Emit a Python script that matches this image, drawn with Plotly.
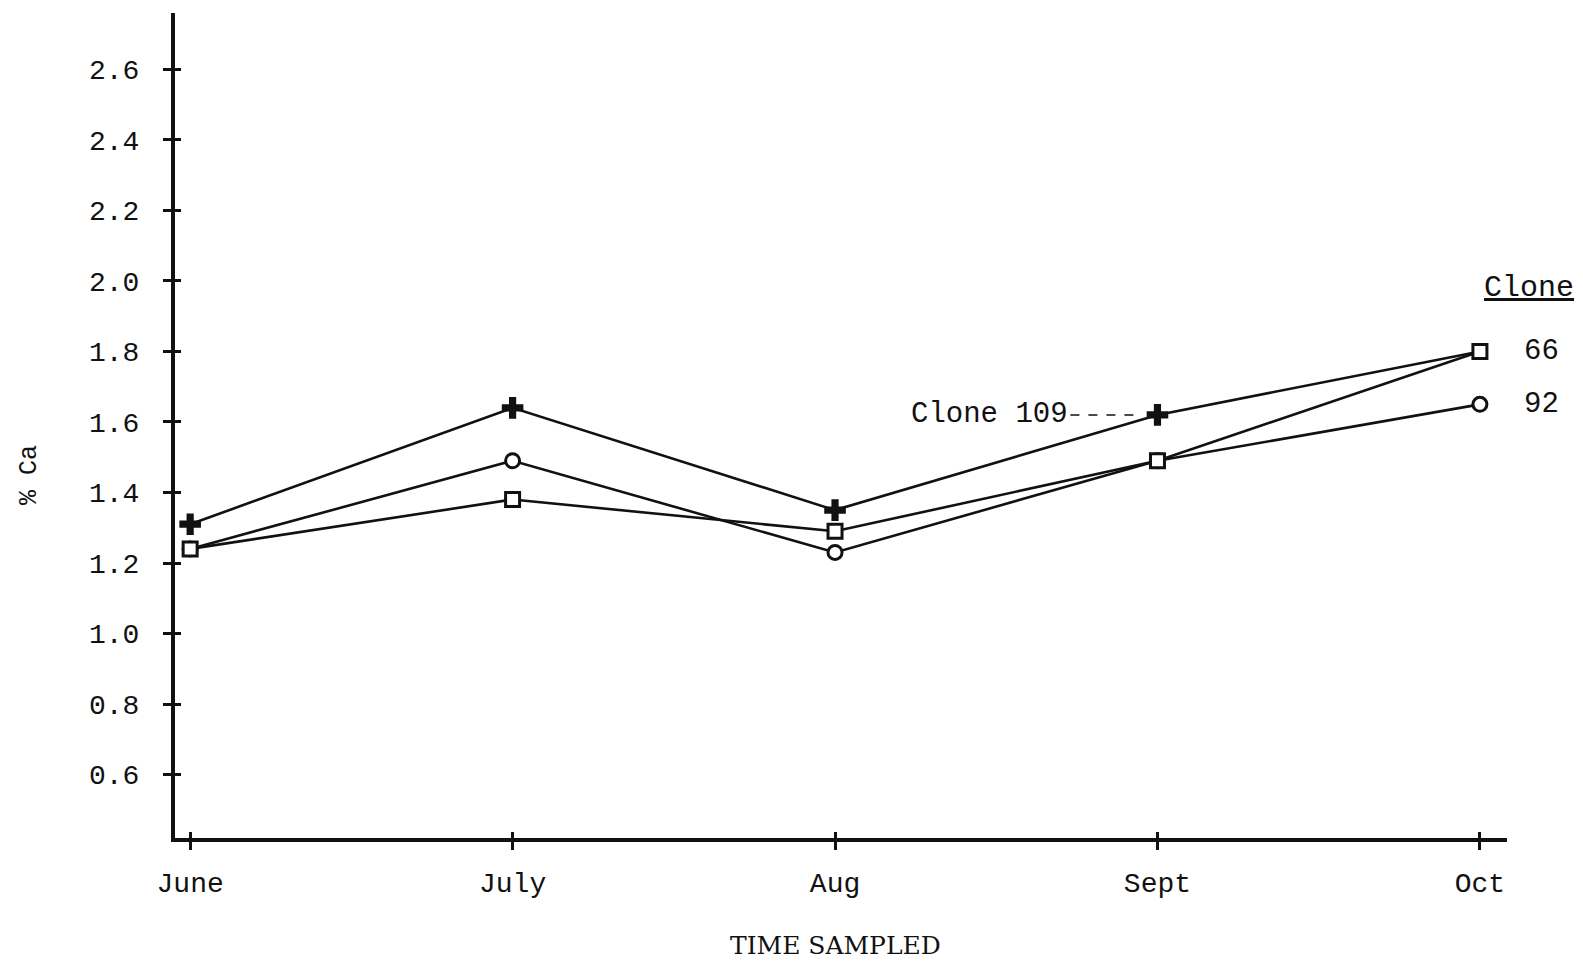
import plotly.graph_objects as go

months = ["June", "July", "Aug", "Sept", "Oct"]
clone_109 = [1.31, 1.64, 1.35, 1.62, 1.80]
clone_92 = [1.24, 1.49, 1.23, 1.49, 1.65]
clone_66 = [1.24, 1.38, 1.29, 1.49, 1.80]
y_ticks = [0.6, 0.8, 1.0, 1.2, 1.4, 1.6, 1.8, 2.0, 2.2, 2.4, 2.6]

INK = "#111111"
TYPE_FONT = "Liberation Mono"
X_RANGE = [-0.047, 4.084]
Y_RANGE = [0.42, 2.76]

fig = go.Figure()
# Oct marker of clone 109 sits under the clone 66 square in the original
series = [
    ("109", clone_109, "cross", [18, 18, 18, 18, 11], 0, INK),
    ("92", clone_92, "circle", 14, 3, "white"),
    ("66", clone_66, "square", 14, 3, "white"),
]
for name, vals, sym, size, lw, fill in series:
    fig.add_trace(go.Scatter(
        x=months, y=vals, mode="lines+markers", name=name,
        line=dict(color=INK, width=2.6),
        marker=dict(symbol=sym, size=size, color=fill, opacity=1,
                    line=dict(color=INK, width=lw)),
        showlegend=False,
    ))

# leader line for "Clone 109" label (dashed)
sept_idx = 3
fig.add_shape(type="line", xref="x", yref="y",
              x0=sept_idx - 0.27, x1=sept_idx - 0.05,
              y0=clone_109[sept_idx], y1=clone_109[sept_idx],
              line=dict(color=INK, width=1.5, dash="dash"))
fig.add_annotation(x=sept_idx - 0.27, y=clone_109[sept_idx], xref="x", yref="y",
                   text="Clone 109", showarrow=False, xanchor="right",
                   font=dict(family=TYPE_FONT, size=29, color=INK))

oct_idx = 4
fig.add_annotation(x=oct_idx, y=clone_66[oct_idx], xref="x", yref="y",
                   text="66", showarrow=False, xanchor="left", xshift=42,
                   font=dict(family=TYPE_FONT, size=29, color=INK))
fig.add_annotation(x=oct_idx, y=clone_92[oct_idx], xref="x", yref="y",
                   text="92", showarrow=False, xanchor="left", xshift=42,
                   font=dict(family=TYPE_FONT, size=29, color=INK))
fig.add_annotation(x=oct_idx, y=1.98, xref="x", yref="y",
                   text="<u>Clone</u>", showarrow=False, xanchor="left", xshift=2,
                   font=dict(family=TYPE_FONT, size=30, color=INK))

fig.add_annotation(x=-0.122, y=0.44, xref="paper", yref="paper",
                   text="% Ca", showarrow=False, textangle=-90,
                   font=dict(family=TYPE_FONT, size=25, color=INK))
fig.add_annotation(x=0.496, y=-0.15, xref="paper", yref="paper",
                   text="TIME SAMPLED", showarrow=False,
                   font=dict(family="DejaVu Serif", size=25, color=INK))

fig.update_xaxes(
    type="category", range=X_RANGE,
    showline=True, linecolor=INK, linewidth=4,
    ticks="outside", ticklen=8, tickwidth=3, tickcolor=INK,
    showgrid=False, zeroline=False,
    tickfont=dict(family=TYPE_FONT, size=28, color=INK),
    ticklabelstandoff=8,
)
fig.update_yaxes(
    range=Y_RANGE, tickvals=y_ticks,
    ticktext=[f"{v:.1f}" for v in y_ticks],
    showline=True, linecolor=INK, linewidth=4,
    ticks="outside", ticklen=8, tickwidth=3, tickcolor=INK,
    showgrid=False, zeroline=False,
    tickfont=dict(family=TYPE_FONT, size=28, color=INK),
    ticklabelstandoff=18,
)
# overlay axes giving the inner half of the crossing tick marks
fig.update_layout(
    xaxis2=dict(overlaying="x", side="bottom", anchor="y", range=X_RANGE,
                tickmode="array", tickvals=list(range(len(months))),
                showticklabels=False, ticks="inside", ticklen=6, tickwidth=3,
                tickcolor=INK, showgrid=False, zeroline=False, showline=False),
    yaxis2=dict(overlaying="y", side="left", anchor="x", range=Y_RANGE,
                tickmode="array", tickvals=y_ticks,
                showticklabels=False, ticks="inside", ticklen=6, tickwidth=3,
                tickcolor=INK, showgrid=False, zeroline=False, showline=False),
)
fig.add_trace(go.Scatter(x=[None], y=[None], xaxis="x2", yaxis="y2",
                         showlegend=False, hoverinfo="skip"))
fig.update_layout(
    width=1583, height=963,
    margin=dict(l=175, r=76, t=13, b=125),
    paper_bgcolor="white", plot_bgcolor="white",
)
fig.write_html("out.html")
